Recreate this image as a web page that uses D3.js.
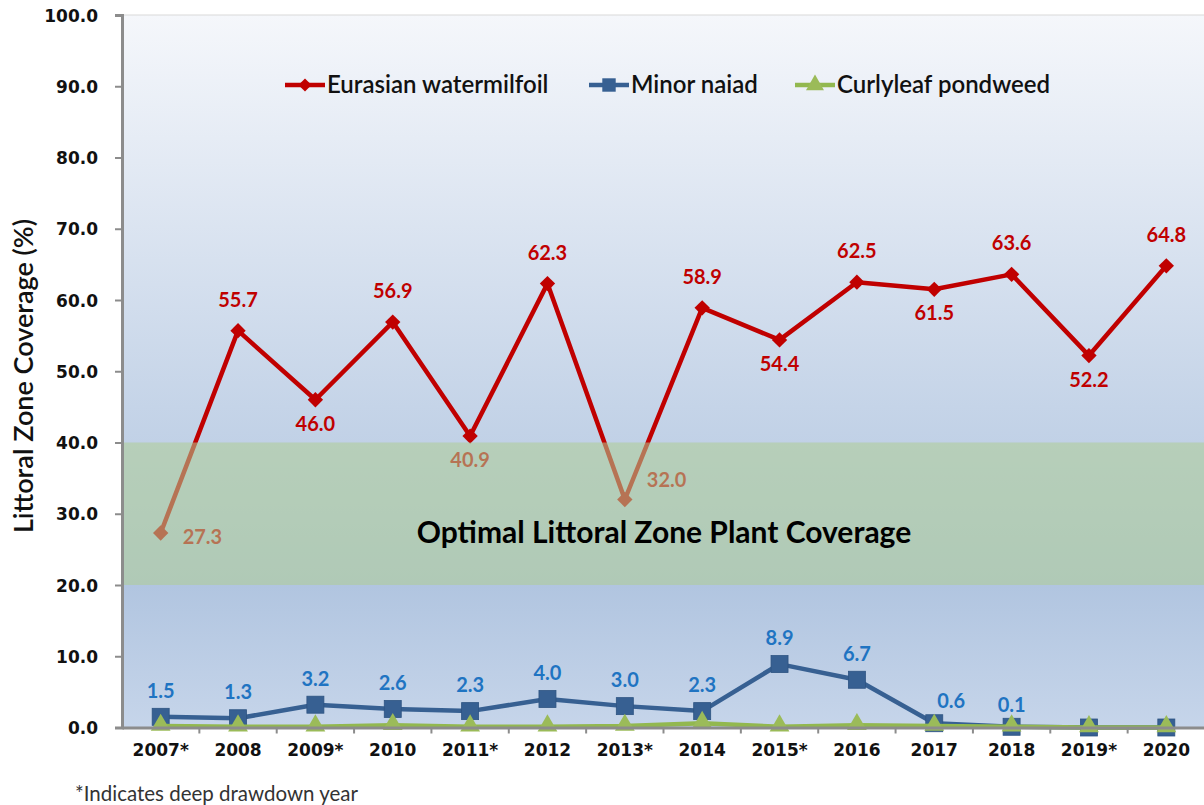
<!DOCTYPE html>
<html>
<head>
<meta charset="utf-8">
<script src="https://cdn.jsdelivr.net/npm/d3@7/dist/d3.min.js"></script>
<style>
  body { margin: 0; background: #fff; }
  svg { display: block; }
  .tick-lbl { font-family: 'DejaVu Sans', Verdana, sans-serif; font-weight: bold; font-size: 17px; fill: #111; }
  .cal { font-family: Lato, 'Open Sans', sans-serif; }
</style>
</head>
<body>
<div id="chart"></div>
<script>
const years = ['2007*', '2008', '2009*', '2010', '2011*', '2012', '2013*', '2014', '2015*', '2016', '2017', '2018', '2019*', '2020'];
const milfoil = [27.3, 55.7, 46.0, 56.9, 40.9, 62.3, 32.0, 58.9, 54.4, 62.5, 61.5, 63.6, 52.2, 64.8];
const naiad = [1.5, 1.3, 3.2, 2.6, 2.3, 4.0, 3.0, 2.3, 8.9, 6.7, 0.6, 0.1, 0.0, 0.0];
const curlyleaf = [0.2, 0.1, 0.1, 0.3, 0.1, 0.1, 0.2, 0.6, 0.1, 0.3, 0.2, 0.1, 0.0, 0.0];
const yTicks = [0, 10, 20, 30, 40, 50, 60, 70, 80, 90, 100];
const optimalBand = [20, 40];
// where each milfoil label sits relative to its marker
const milfoilLabelSide = ['right', 'above', 'below', 'above', 'below', 'above', 'upright', 'above', 'below', 'above', 'below', 'above', 'below', 'above'];
const seriesNames = ['Eurasian watermilfoil', 'Minor naiad', 'Curlyleaf pondweed'];

const width = 1204, height = 805;
const plot = {left: 122, right: 1205, top: 15, bottom: 727.5};

const svg = d3.select('#chart').append('svg')
  .attr('width', width)
  .attr('height', height);

const defs = svg.append('defs');
const grad = defs.append('linearGradient')
  .attr('id', 'bg').attr('x1', 0).attr('y1', 0).attr('x2', 0).attr('y2', 1);
grad.append('stop').attr('offset', '0%').attr('stop-color', '#f5f7fb');
grad.append('stop').attr('offset', '55%').attr('stop-color', '#c5d4e8');
grad.append('stop').attr('offset', '80%').attr('stop-color', '#b1c5e0');
grad.append('stop').attr('offset', '100%').attr('stop-color', '#c6d5ea');

const x = d3.scaleBand()
  .domain(years)
  .range([plot.left, plot.right]);

const y = d3.scaleLinear()
  .domain([0, 100])
  .range([plot.bottom, plot.top]);

const cx = (d, i) => x(years[i]) + x.bandwidth() / 2;

svg.append('rect')
  .attr('x', plot.left).attr('y', plot.top)
  .attr('width', plot.right - plot.left).attr('height', plot.bottom - plot.top)
  .attr('fill', 'url(#bg)');

svg.append('line')
  .attr('x1', plot.left).attr('x2', plot.right)
  .attr('y1', plot.top).attr('y2', plot.top)
  .attr('stroke', '#d9d9d9').attr('stroke-width', 1);

// red series (drawn under the band so the band tints it)
const red = '#c00000';
const lineGen = (vals) => d3.line()
  .x((d, i) => cx(d, i))
  .y(d => y(d))(vals);

const gRed = svg.append('g');
gRed.append('path')
  .attr('d', lineGen(milfoil))
  .attr('fill', 'none').attr('stroke', red).attr('stroke-width', 4.5)
  .attr('stroke-linejoin', 'round');

gRed.selectAll('path.mk')
  .data(milfoil)
  .enter().append('path')
    .attr('class', 'mk')
    .attr('d', d3.symbol(d3.symbolDiamond2, 150))
    .attr('transform', (d, i) => `translate(${cx(d, i)},${y(d)})`)
    .attr('fill', red);

const labelOffset = {
  above: [0, -24, 'middle'],
  below: [0, 31, 'middle'],
  right: [22, 11, 'start'],
  upright: [22, -13, 'start']
};

gRed.selectAll('text')
  .data(milfoil)
  .enter().append('text')
    .attr('class', 'cal')
    .attr('x', (d, i) => cx(d, i) + labelOffset[milfoilLabelSide[i]][0])
    .attr('y', (d, i) => y(d) + labelOffset[milfoilLabelSide[i]][1])
    .attr('text-anchor', (d, i) => labelOffset[milfoilLabelSide[i]][2])
    .attr('font-size', 20).attr('font-weight', 'bold')
    .attr('fill', red)
    .text(d => d3.format('.1f')(d));

// optimal coverage band
svg.append('rect')
  .attr('x', plot.left).attr('width', plot.right - plot.left)
  .attr('y', y(optimalBand[1])).attr('height', y(optimalBand[0]) - y(optimalBand[1]))
  .attr('fill', 'rgb(174,205,150)').attr('fill-opacity', 0.56);

svg.append('text')
  .attr('class', 'cal')
  .attr('x', 664).attr('y', y(30) + 29)
  .attr('text-anchor', 'middle')
  .attr('font-size', 30).attr('font-weight', 'bold').attr('fill', '#000')
  .text('Optimal Littoral Zone Plant Coverage');

// minor naiad
const blue = '#376092';
const gBlue = svg.append('g');
gBlue.append('path')
  .attr('d', lineGen(naiad))
  .attr('fill', 'none').attr('stroke', blue).attr('stroke-width', 4.5)
  .attr('stroke-linejoin', 'round');
gBlue.selectAll('rect')
  .data(naiad)
  .enter().append('rect')
    .attr('x', (d, i) => cx(d, i) - 8.5)
    .attr('y', d => y(d) - 8.5)
    .attr('width', 17).attr('height', 17)
    .attr('fill', blue).attr('stroke', '#2e5482').attr('stroke-width', 0.8);
gBlue.selectAll('text')
  .data(naiad.map((v, i) => ({v, i})).filter(d => d.v > 0))
  .enter().append('text')
    .attr('class', 'cal')
    .attr('x', d => cx(d.v, d.i) + (d.i === 10 ? 17 : 0))
    .attr('y', d => y(d.v) - (d.v < 1 ? 15 : 19))
    .attr('text-anchor', 'middle')
    .attr('font-size', 20).attr('font-weight', 'bold')
    .attr('fill', '#1f74c2')
    .text(d => d3.format('.1f')(d.v));

// curlyleaf pondweed
const green = '#92b84f';
const gGreen = svg.append('g');
gGreen.append('path')
  .attr('d', lineGen(curlyleaf))
  .attr('fill', 'none').attr('stroke', green).attr('stroke-width', 4.5);
gGreen.selectAll('path.mk')
  .data(curlyleaf)
  .enter().append('path')
    .attr('class', 'mk')
    .attr('d', d3.symbol(d3.symbolTriangle, 170))
    .attr('transform', (d, i) => `translate(${cx(d, i)},${y(d) - 1})`)
    .attr('fill', '#9bbb59');

// axes
const axisColor = '#8c8c8c';
const yAxis = svg.append('g')
  .attr('transform', `translate(${plot.left},0)`)
  .call(d3.axisLeft(y).tickValues(yTicks).tickSize(7).tickPadding(17).tickFormat(d3.format('.1f')));
yAxis.select('.domain').attr('stroke', axisColor).attr('stroke-width', 3);
yAxis.selectAll('.tick line').attr('stroke', axisColor).attr('stroke-width', 2);
yAxis.selectAll('.tick text').attr('class', 'tick-lbl').attr('dy', '0.36em');

const xAxis = svg.append('g')
  .attr('transform', `translate(0,${plot.bottom})`)
  .call(d3.axisBottom(x).tickSize(0).tickPadding(13));
xAxis.select('.domain').attr('stroke', axisColor).attr('stroke-width', 3);
xAxis.selectAll('.tick text').attr('class', 'tick-lbl').attr('dy', '0.9em');
xAxis.selectAll('.sep')
  .data(years.slice(1))
  .enter().append('line')
    .attr('x1', d => x(d)).attr('x2', d => x(d))
    .attr('y1', 0).attr('y2', 6)
    .attr('stroke', axisColor).attr('stroke-width', 2);

svg.append('text')
  .attr('class', 'cal')
  .attr('transform', `translate(33,376) rotate(-90)`)
  .attr('text-anchor', 'middle')
  .attr('font-size', 27).attr('font-weight', 600).attr('fill', '#111')
  .text('Littoral Zone Coverage (%)');

// legend
const legendItems = [
  {name: seriesNames[0], color: red, x: 285, sym: 'diamond'},
  {name: seriesNames[1], color: blue, x: 589, sym: 'square'},
  {name: seriesNames[2], color: green, x: 795, sym: 'triangle'}
];
const legend = svg.append('g').attr('transform', 'translate(0,85)');
const lg = legend.selectAll('g')
  .data(legendItems)
  .enter().append('g')
    .attr('transform', d => `translate(${d.x},0)`);
lg.append('line')
  .attr('x1', 0).attr('x2', 40)
  .attr('stroke', d => d.color).attr('stroke-width', 4.5);
lg.append('path')
  .attr('transform', 'translate(20,0)')
  .attr('d', d => d.sym === 'diamond' ? d3.symbol(d3.symbolDiamond2, 110)()
    : d.sym === 'square' ? d3.symbol(d3.symbolSquare, 180)()
    : d3.symbol(d3.symbolTriangle, 140)())
  .attr('fill', d => d.sym === 'triangle' ? '#9bbb59' : d.color);
lg.append('text')
  .attr('class', 'cal')
  .attr('x', 42).attr('y', 8)
  .attr('font-size', 24).attr('font-weight', 600).attr('fill', '#111')
  .text(d => d.name);

svg.append('text')
  .attr('class', 'cal')
  .attr('x', 75).attr('y', 801)
  .attr('font-size', 20.5).attr('fill', '#333')
  .text('*Indicates deep drawdown year');
</script>
</body>
</html>
